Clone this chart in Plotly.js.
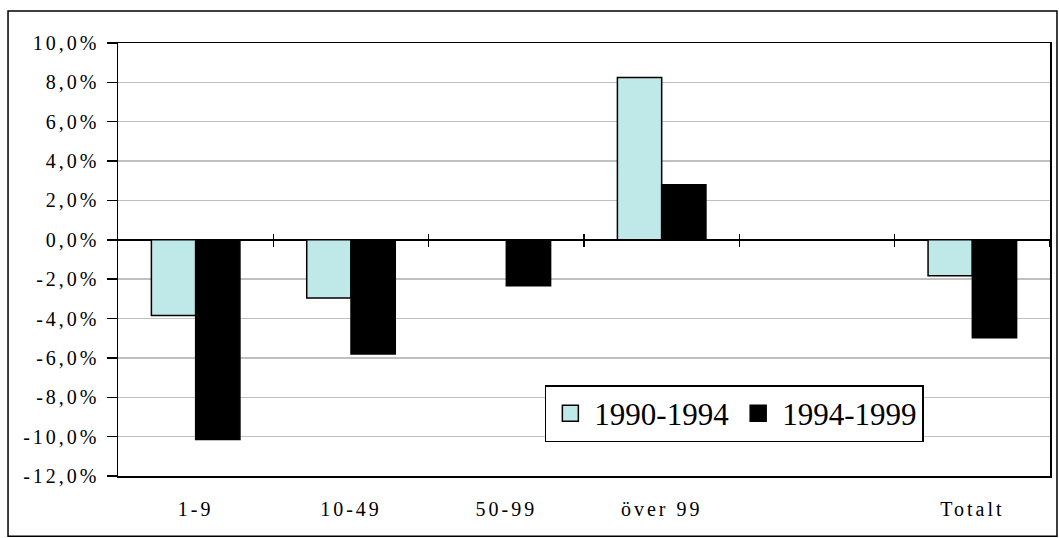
<!DOCTYPE html>
<html>
<head>
<meta charset="utf-8">
<script src="https://cdn.plot.ly/plotly-3.0.1.min.js"></script>
<style>
html,body{margin:0;padding:0;background:#fff;}
#chart{width:1059px;height:538px;}
#chart .xtick text, #chart .ytick text { letter-spacing: 3px; }
</style>
</head>
<body>
<div id="chart"></div>
<script>
// Data
const categories = ["1-9", "10-49", "50-99", "över 99", "", "Totalt"];
const series1Name = "1990-1994";
const series2Name = "1994-1999";
const series1 = [-3.85, -2.95, null, 8.25, null, -1.83];
const series2 = [-10.15, -5.8, -2.33, 2.8, null, -4.98];
const yTickVals = [-12, -10, -8, -6, -4, -2, 0, 2, 4, 6, 8, 10];
const yTickText = ["-12,0%", "-10,0%", "-8,0%", "-6,0%", "-4,0%", "-2,0%", "0,0%", "2,0%", "4,0%", "6,0%", "8,0%", "10,0%"];

const color1 = "#bfe9e8";
const color2 = "#000000";

const xPos = categories.map((c, i) => i);
const boundaries = categories.map((c, i) => i + 0.5);

const font = "Liberation Serif";

const traces = [
  {type: "bar", name: series1Name, x: xPos, y: series1, showlegend: false,
   marker: {color: color1, line: {color: "#000", width: 1.5}}, hoverinfo: "skip"},
  {type: "bar", name: series2Name, x: xPos, y: series2, showlegend: false,
   marker: {color: color2, line: {color: "#000", width: 1.5}}, hoverinfo: "skip"},
  // legend entries with larger square symbols
  {type: "scatter", name: series1Name, x: [null], y: [null], mode: "markers",
   marker: {symbol: "square", size: 16, color: color1, line: {color: "#000", width: 1.5}}},
  {type: "scatter", name: series2Name, x: [null], y: [null], mode: "markers",
   marker: {symbol: "square", size: 16, color: color2, line: {color: "#000", width: 1.5}}},
  {type: "scatter", x: [xPos[0]], y: [0], xaxis: "x2", mode: "none", showlegend: false, hoverinfo: "skip"},
  {type: "scatter", x: [xPos[0]], y: [0], xaxis: "x3", mode: "none", showlegend: false, hoverinfo: "skip"}
];

const yMin = yTickVals[0], yMax = yTickVals[yTickVals.length - 1];
const zeroFrac = (0 - yMin) / (yMax - yMin);
const xRange = [-0.5, categories.length - 0.5];

const layout = {
  width: 1059, height: 538,
  margin: {l: 118, r: 9, t: 43, b: 62},
  paper_bgcolor: "#fff", plot_bgcolor: "#fff",
  font: {family: font, color: "#000"},
  barmode: "group", bargap: 0.43, bargroupgap: 0,
  showlegend: true,
  legend: {orientation: "h", x: 0.458, y: 0.21, xanchor: "left", yanchor: "top",
    bordercolor: "#000", borderwidth: 1.5, bgcolor: "#fff",
    font: {family: font, size: 31, color: "#000"}, itemwidth: 38, tracegroupgap: 0},
  xaxis: {range: xRange, tickvals: xPos, ticktext: categories,
    showgrid: false, zeroline: false, showline: true, mirror: true, linecolor: "#000", linewidth: 1.5,
    ticks: "outside", ticklen: 14, tickcolor: "rgba(0,0,0,0)",
    tickfont: {family: font, size: 20, color: "#000"}},
  xaxis2: {overlaying: "x", anchor: "free", position: zeroFrac, range: xRange,
    tickvals: boundaries, showticklabels: false, ticks: "outside", ticklen: 6, tickwidth: 1.5, tickcolor: "#000",
    showline: false, showgrid: false, zeroline: false},
  xaxis3: {overlaying: "x", anchor: "free", position: zeroFrac, range: xRange,
    tickvals: boundaries, showticklabels: false, ticks: "inside", ticklen: 6, tickwidth: 1.5, tickcolor: "#000",
    showline: false, showgrid: false, zeroline: false},
  yaxis: {range: [yMin, yMax], tickvals: yTickVals, ticktext: yTickText,
    showgrid: true, gridcolor: "#c0c0c0", gridwidth: 1.5,
    zeroline: true, zerolinecolor: "#000", zerolinewidth: 1.5,
    showline: true, mirror: true, linecolor: "#000", linewidth: 1.5,
    ticks: "outside", ticklen: 10, tickwidth: 1.5, tickcolor: "#000",
    ticklabelstandoff: 3,
    tickfont: {family: font, size: 20, color: "#000"}},
  shapes: [{type: "rect", xref: "paper", yref: "paper",
    x0: -0.118, x1: 1.0075, y0: -0.139, y1: 1.074,
    line: {color: "#000", width: 1.5}, fillcolor: "rgba(0,0,0,0)", layer: "below"}]
};

Plotly.newPlot("chart", traces, layout, {staticPlot: true, displayModeBar: false});
</script>
</body>
</html>
